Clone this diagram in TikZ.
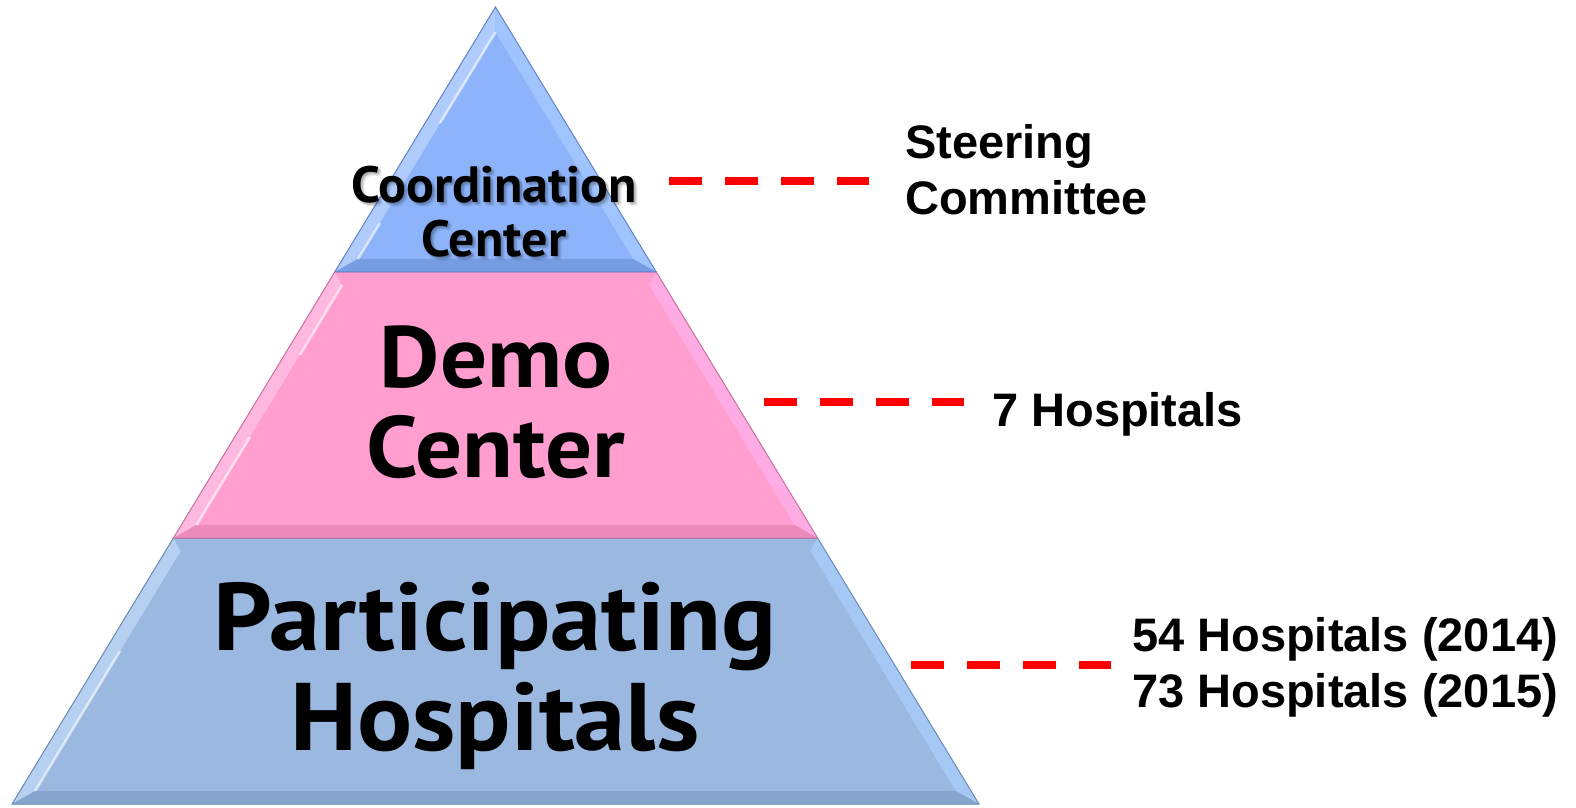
\documentclass[tikz,border=0pt]{standalone}
\usepackage{fontspec}
\setmainfont{PT Sans}
\newfontfamily\tierfont{PT Sans}[FakeStretch=1.07]
\newfontfamily\topfont{PT Sans}[FakeStretch=1.02]
\newfontfamily\labelfont{Liberation Sans}
\definecolor{faceA}{RGB}{141,180,250}
\definecolor{leftA}{RGB}{176,204,252}
\definecolor{rightA}{RGB}{160,196,253}
\definecolor{darkA}{RGB}{118,156,226}
\definecolor{lineA}{RGB}{98,132,198}
\definecolor{faceB}{RGB}{255,158,207}
\definecolor{leftB}{RGB}{255,184,223}
\definecolor{rightB}{RGB}{255,172,228}
\definecolor{darkB}{RGB}{236,138,188}
\definecolor{lineB}{RGB}{200,112,158}
\definecolor{faceC}{RGB}{155,185,224}
\definecolor{leftC}{RGB}{182,208,242}
\definecolor{rightC}{RGB}{165,200,244}
\definecolor{darkC}{RGB}{134,164,206}
\definecolor{lineC}{RGB}{108,138,182}
\begin{document}
\begin{tikzpicture}[x=1pt,y=1pt,
  tiertext/.style={align=center,text=black,inner sep=0pt,anchor=base},
  sidelabel/.style={font=\labelfont\bfseries\fontsize{47}{56}\selectfont,
    align=left,inner sep=0pt,anchor=base west},
  reddash/.style={draw=red,line width=8pt,dash pattern=on 32.7pt off 23.3pt},
  gloss/.style={draw=white,line width=2.5pt,opacity=.6},
]
\useasboundingbox (0,0) rectangle (1576,807);
\fill[white] (0,0) rectangle (1576,807);

% bottom tier
\fill[faceC] (12.04,3) -- (173.40,269) -- (817.60,269) -- (978.96,3) -- cycle;
\fill[leftC] (12.04,3) -- (173.40,269) -- (180.71,256) -- (35.13,16) -- cycle;
\fill[rightC] (978.96,3) -- (817.60,269) -- (810.29,256) -- (955.87,16) -- cycle;
\fill[darkC] (12.04,3) -- (978.96,3) -- (955.87,16) -- (35.13,16) -- cycle;
\draw[gloss] (35.13,16) -- (120,156);
\draw[lineC,line width=1pt] (12.04,3) -- (173.40,269) -- (817.60,269) -- (978.96,3) -- cycle;

% middle tier
\fill[faceB] (173.40,269) -- (334.75,535) -- (656.25,535) -- (817.60,269) -- cycle;
\fill[leftB] (173.40,269) -- (334.75,535) -- (342.07,522) -- (196.48,282) -- cycle;
\fill[rightB] (817.60,269) -- (656.25,535) -- (648.93,522) -- (794.52,282) -- cycle;
\fill[darkB] (173.40,269) -- (817.60,269) -- (794.52,282) -- (196.48,282) -- cycle;
\draw[gloss] (196.48,282) -- (250,370);
\draw[gloss] (300,452) -- (342.07,522);
\draw[lineB,line width=1pt] (173.40,269) -- (334.75,535) -- (656.25,535) -- (817.60,269) -- cycle;

% top tier
\fill[faceA] (334.75,535) -- (495.5,800) -- (656.25,535) -- cycle;
\fill[leftA] (334.75,535) -- (495.5,800) -- (495.5,774.9) -- (357.84,548) -- cycle;
\fill[rightA] (656.25,535) -- (495.5,800) -- (495.5,774.9) -- (633.16,548) -- cycle;
\fill[darkA] (334.75,535) -- (656.25,535) -- (633.16,548) -- (357.84,548) -- cycle;
\draw[gloss] (357.84,548) -- (380,584);
\draw[gloss] (440,684) -- (495.5,774.9);
\draw[lineA,line width=1pt] (334.75,535) -- (495.5,800) -- (656.25,535) -- cycle;

% tier captions (the top one with a soft drop shadow)
\foreach \i/\dx/\dy in {1/1/-1,2/3/-3,3/1/-3,4/3/-1,5/2/-2,6/4/-4}
  \node[tiertext,font=\topfont\bfseries\fontsize{51}{54}\selectfont,text opacity=.06]
    (ccshadow\i) at (494+\dx,550+\dy) {Coordination\\Center};
\node[tiertext,font=\topfont\bfseries\fontsize{51}{54}\selectfont] (cc) at (494,550) {Coordination\\Center};
\node[tiertext,font=\tierfont\bfseries\fontsize{87}{90}\selectfont] (demo) at (496,330) {Demo\\Center};
\node[tiertext,font=\tierfont\bfseries\fontsize{96}{100}\selectfont] (part) at (495,57) {Participating\\Hospitals};

% side labels
\node[sidelabel] (steer) at (905,592) {Steering\\Committee};
\node[sidelabel] (seven) at (992,381) {7 Hospitals};
\node[sidelabel] (years) at (1132,100) {54 Hospitals (2014)\\73 Hospitals (2015)};

% dashed connectors
\coordinate (ccend) at (669,626);
\coordinate (demoend) at (764,405);
\coordinate (partend) at (911,142);
\draw[reddash] (ccend) -- ++(200,0);
\draw[reddash] (demoend) -- ++(200,0);
\draw[reddash] (partend) -- ++(200,0);
\end{tikzpicture}
\end{document}
